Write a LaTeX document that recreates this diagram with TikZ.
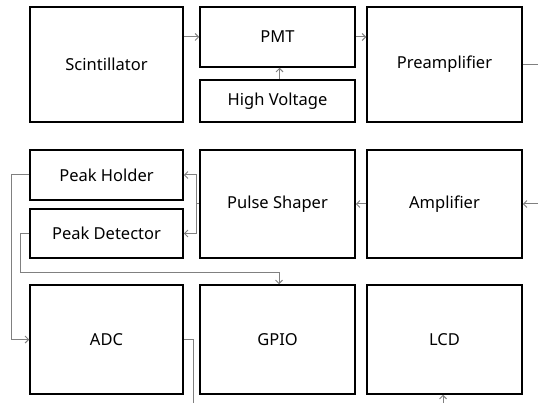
\documentclass[tikz,border=0pt]{standalone}
\usepackage{fontspec}
\setmainfont{Noto Sans}
\usetikzlibrary{arrows.meta,positioning,calc}
\definecolor{wire}{gray}{0.5}

\begin{document}
\begin{tikzpicture}[x=1pt,y=-1pt,
  block/.style={draw,line width=1.5pt,inner sep=0pt,font=\fontsize{16.5}{19}\selectfont},
  wide/.style={block,minimum width=153pt},
  conn/.style={draw=wire,line width=1pt},
  >={Straight Barb[length=3.5pt,width=7pt]}]
\useasboundingbox (0,0) rectangle (538,403);

% top row
\node[wide,minimum height=115pt] (scint) at (106.5,64.5) {Scintillator};
\node[wide,minimum width=155pt,minimum height=60pt] (pmt) at (277.5,37) {PMT};
\node[wide,minimum width=155pt,minimum height=42pt] (hv) at (277.5,101) {High Voltage};
\node[wide,minimum width=155pt,minimum height=115pt] (preamp) at (444.5,64.5) {Preamplifier};

% middle row
\node[wide,minimum height=50pt] (holder) at (106.5,175) {Peak Holder};
\node[wide,minimum height=49pt] (detector) at (106.5,233.5) {Peak Detector};
\node[wide,minimum width=155pt,minimum height=108pt] (shaper) at (277.5,204) {Pulse Shaper};
\node[wide,minimum width=155pt,minimum height=108pt] (amp) at (444.5,204) {Amplifier};

% bottom row
\node[wide,minimum height=109pt] (adc) at (106.5,339.5) {ADC};
\node[wide,minimum width=155pt,minimum height=109pt] (gpio) at (277.5,339.5) {GPIO};
\node[wide,minimum width=155pt,minimum height=109pt] (lcd) at (444.5,339.5) {LCD};

% free ends and bends
\coordinate (preout) at (538,64.5);
\coordinate (ampin) at (538,204);
\coordinate (split) at (196,204);
\coordinate (bend) at (20,273);
\coordinate (adcout) at (193,403);
\coordinate (lcdin) at (443,403);

\draw[conn,->] (scint.east |- pmt) -- (pmt);
\draw[conn,->] (pmt) -- (pmt -| preamp.west);
\draw[conn,->] ([xshift=2pt]hv.north) -- ([xshift=2pt]pmt.south);
\draw[conn] (preamp.east) -- (preout);
\draw[conn,->] (ampin) -- (amp.east);
\draw[conn,->] (amp) -- (amp -| shaper.east);
\draw[conn,->] (shaper.west) -- (split) |- (holder.east);
\draw[conn,->] (split) |- (detector.east);
\draw[conn,->] (holder.west) -- ++(-18,0) |- (adc.west);
\draw[conn,->] (detector.west) -| (bend) -| ([xshift=1.5pt]gpio.north);
\draw[conn] (adc.east) -| (adcout);
\draw[conn,->] (lcdin) -- (lcd.south -| lcdin);
\end{tikzpicture}
\end{document}
